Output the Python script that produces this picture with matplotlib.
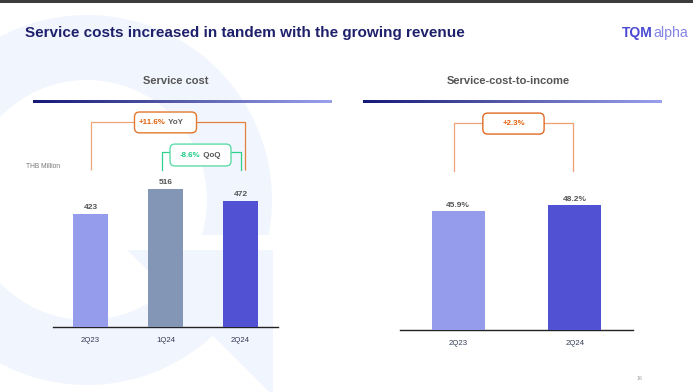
import numpy as np
import matplotlib
matplotlib.use("Agg")
import matplotlib.pyplot as plt
from matplotlib.patches import Annulus, Rectangle, Polygon, FancyBboxPatch
from matplotlib.colors import LinearSegmentedColormap

plt.rcParams['font.family'] = ['Liberation Sans', 'DejaVu Sans']

# data
cost_quarters = ['2Q23', '1Q24', '2Q24']
cost_values = [423, 516, 472]
cost_colors = ['#959ceb', '#8396b5', '#5151d4']
ratio_quarters = ['2Q23', '2Q24']
ratio_values = [45.9, 48.2]
ratio_colors = ['#959ceb', '#5151d4']
yoy_change = '+11.6%'
qoq_change = '-8.6%'
ratio_change = '+2.3%'

W, H = 693, 392
fig = plt.figure(figsize=(W / 100, H / 100), dpi=100)
fig.patch.set_facecolor('white')

def fx(x):
    return x / W

def fy(y):
    return 1 - y / H

# background watermark (big Q), pixel coords
bg = fig.add_axes([0, 0, 1, 1], zorder=-5)
bg.set_xlim(0, W)
bg.set_ylim(H, 0)
bg.axis('off')
light = '#f1f6fe'
bg.add_patch(Annulus((87, 200), 185, 65, color=light, lw=0))
bg.add_patch(Rectangle((188, 235), 100, 15, color='white', lw=0))
bg.add_patch(Polygon([(127, 250), (273, 250), (273, 396)], closed=True, color=light, lw=0))
bg.add_patch(Rectangle((0, 0), W, 2.5, color='#3c3c3c', lw=0))

# header
fig.text(fx(25), fy(33), 'Service costs increased in tandem with the growing revenue',
         fontsize=11, fontweight='bold', color='#1f206b', va='center', ha='left')
fig.text(fx(622), fy(33), 'TQM', fontsize=10, fontweight='bold', color='#4a4ad2',
         va='center', ha='left')
fig.text(fx(653.5), fy(33.5), 'alpha', fontsize=10.2, color='#8585e6',
         va='center', ha='left')
fig.text(fx(639), fy(378), '16', fontsize=3.8, color='#999999', va='center', ha='center')

# panel titles and gradient rules
grad = LinearSegmentedColormap.from_list('g', ['#151a78', '#5a5eaa', '#9aa0ec'])
for x0, cx, title in [(33, 175.5, 'Service cost'), (363, 508.5, 'Service-cost-to-income')]:
    fig.text(fx(cx), fy(81), title, fontsize=8, fontweight='bold', color='#555555',
             ha='center', va='center')
    gax = fig.add_axes([fx(x0), fy(103.5), 299 / W, 3.5 / H])
    gax.imshow(np.linspace(0, 1, 256)[None, :], cmap=grad, aspect='auto')
    gax.axis('off')

fig.text(fx(26), fy(167), 'THB Million', fontsize=4.8, color='#777777', va='center', ha='left')


def style_axis(ax):
    ax.set_facecolor('none')
    for s in ['top', 'right', 'left']:
        ax.spines[s].set_visible(False)
    ax.spines['bottom'].set_color('#222222')
    ax.spines['bottom'].set_linewidth(1.0)
    ax.set_yticks([])
    ax.tick_params(axis='x', length=0, pad=7, labelsize=5.6, labelcolor='#333a55')


def change_box(ax, cx, cy, w, h, aspect, edge, parts):
    box = FancyBboxPatch((cx - w / 2, cy - h / 2), w, h,
                         boxstyle='round,pad=0,rounding_size=%f' % (w * 0.08),
                         mutation_aspect=aspect, facecolor='white', edgecolor=edge,
                         lw=1.0, zorder=5)
    ax.add_patch(box)
    if len(parts) == 1:
        ax.text(cx, cy, parts[0][0], color=parts[0][1], fontsize=5.7, fontweight='bold',
                ha='center', va='center', zorder=6)
    else:
        t1 = ax.text(cx, cy, parts[0][0], color=parts[0][1], fontsize=5.7,
                     fontweight='bold', ha='right', va='center', zorder=6)
        ax.annotate(' ' + parts[1][0], xy=(1, 0.5), xycoords=t1, color=parts[1][1],
                    fontsize=5.7, fontweight='bold', ha='left', va='center', zorder=6)


# left: service cost
ax1 = fig.add_axes([fx(53), fy(327), 225 / W, 227 / H])
x1 = np.arange(len(cost_quarters))
ax1.bar(x1, cost_values, width=0.467, color=cost_colors, zorder=3)
ax1.set_xlim(-0.5, 2.5)
ax1.set_ylim(0, 850)
ax1.set_xticks(x1, cost_quarters)
style_axis(ax1)
for xi, v in zip(x1, cost_values):
    ax1.annotate(str(v), (xi, v), xytext=(0, 2), textcoords='offset points',
                 ha='center', va='bottom', fontsize=6, fontweight='bold', color='#555555')

asp1 = 75 / 0.267
lo, hi = '#f0a578', '#e3803c'
ax1.plot([0, 0, 0.6], [588, 768, 768], color=lo, lw=0.9, solid_capstyle='butt')
ax1.plot([1.4, 2.06, 2.06], [768, 768, 588], color=hi, lw=0.9, solid_capstyle='butt')
change_box(ax1, 1.0, 766, 0.827, 78, asp1, '#e3782e',
           [(yoy_change, '#e0620e'), ('YoY', '#555555')])
green = '#2fd08e'
ax1.plot([0.953, 0.953, 1.1], [588, 655, 655], color=green, lw=0.9)
ax1.plot([1.85, 2.0, 2.0], [655, 655, 588], color=green, lw=0.9)
change_box(ax1, 1.467, 644, 0.813, 82, asp1, '#5fdca8',
           [(qoq_change, '#1ccc86'), ('QoQ', '#555555')])

# right: service-cost-to-income
ax2 = fig.add_axes([fx(400), fy(330), 233 / W, 230 / H])
x2 = np.arange(len(ratio_quarters))
ax2.bar(x2, ratio_values, width=0.457, color=ratio_colors, zorder=3)
ax2.set_xlim(-0.5, 1.5)
ax2.set_ylim(0, 230 / 2.59)
ax2.set_xticks(x2, ratio_quarters)
style_axis(ax2)
for xi, v in zip(x2, ratio_values):
    ax2.annotate('%.1f%%' % v, (xi, v), xytext=(0, 1.5), textcoords='offset points',
                 ha='center', va='bottom', fontsize=6, fontweight='bold', color='#555555')

asp2 = 116 / 2.59
ax2.plot([-0.04, -0.04, 0.3], [61.4, 79.9, 79.9], color='#f0a578', lw=0.9)
ax2.plot([0.7, 0.987, 0.987], [79.9, 79.9, 61.4], color='#eea070', lw=0.9)
change_box(ax2, 0.474, 79.7, 0.526, 8.1, asp2, '#e06a22', [(ratio_change, '#e0600c')])

fig.savefig('out.png', dpi=100)
